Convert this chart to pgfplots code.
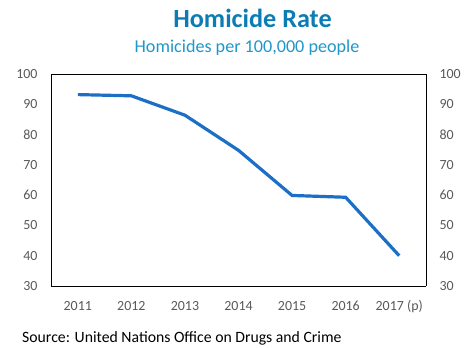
\documentclass[border=0pt]{standalone}
\usepackage{fontspec}
\setmainfont{Carlito}
\usepackage{pgfplots}
\pgfplotsset{compat=1.18}
\definecolor{titleblue}{HTML}{0B7DB4}
\definecolor{subblue}{HTML}{2196C9}
\definecolor{lineblue}{HTML}{1B6FC6}
\definecolor{ticklab}{HTML}{595959}
\begin{document}
\begin{tikzpicture}[x=1bp,y=1bp]
\useasboundingbox (-51,-61) rectangle (420,286);
\begin{axis}[
  at={(0,0)}, anchor=south west,
  scale only axis, width=375bp, height=212bp,
  xmin=-0.5, xmax=6.5, ymin=30, ymax=100,
  xtick={0,...,6},
  xticklabels={2011,2012,2013,2014,2015,2016,2017 (p)},
  ytick={30,40,...,100},
  major tick length=0pt,
  axis line style={black, line width=0.9bp},
  tick label style={font=\fontsize{14}{16}\selectfont, text=ticklab},
  /pgf/number format/assume math mode=true,
  yticklabel style={xshift=-10bp},
  xticklabel style={anchor=base, yshift=-24bp},
  axis y line*=left,
  axis x line*=bottom,
  clip=false,
]
\addplot[lineblue, line width=3.2bp] coordinates {
(0,93.2) (1,92.8) (2,86.4) (3,74.8) (4,59.9) (5,59.3) (6,40.0)
};
\end{axis}
\begin{axis}[
  at={(0,0)}, anchor=south west,
  scale only axis, width=375bp, height=212bp,
  xmin=-0.5, xmax=6.5, ymin=30, ymax=100,
  xtick=\empty,
  ytick={30,40,...,100},
  major tick length=0pt,
  axis line style={black, line width=0.9bp},
  tick label style={font=\fontsize{14}{16}\selectfont, text=ticklab},
  /pgf/number format/assume math mode=true,
  yticklabel style={xshift=10bp},
  axis y line*=right,
  axis x line*=top,
]
\end{axis}
\node[text=titleblue, font=\fontsize{26.3}{29}\selectfont\bfseries, anchor=base] at (201.5,259) {Homicide Rate};
\node[text=subblue, font=\fontsize{18.2}{21}\selectfont, anchor=base] at (196,234) {Homicides per 100,000 people};
\node[text=black, font=\fontsize{15.8}{18}\selectfont, anchor=base west, inner sep=0pt] at (-29,-56) {Source: United Nations Office on Drugs and Crime};
\end{tikzpicture}
\end{document}
